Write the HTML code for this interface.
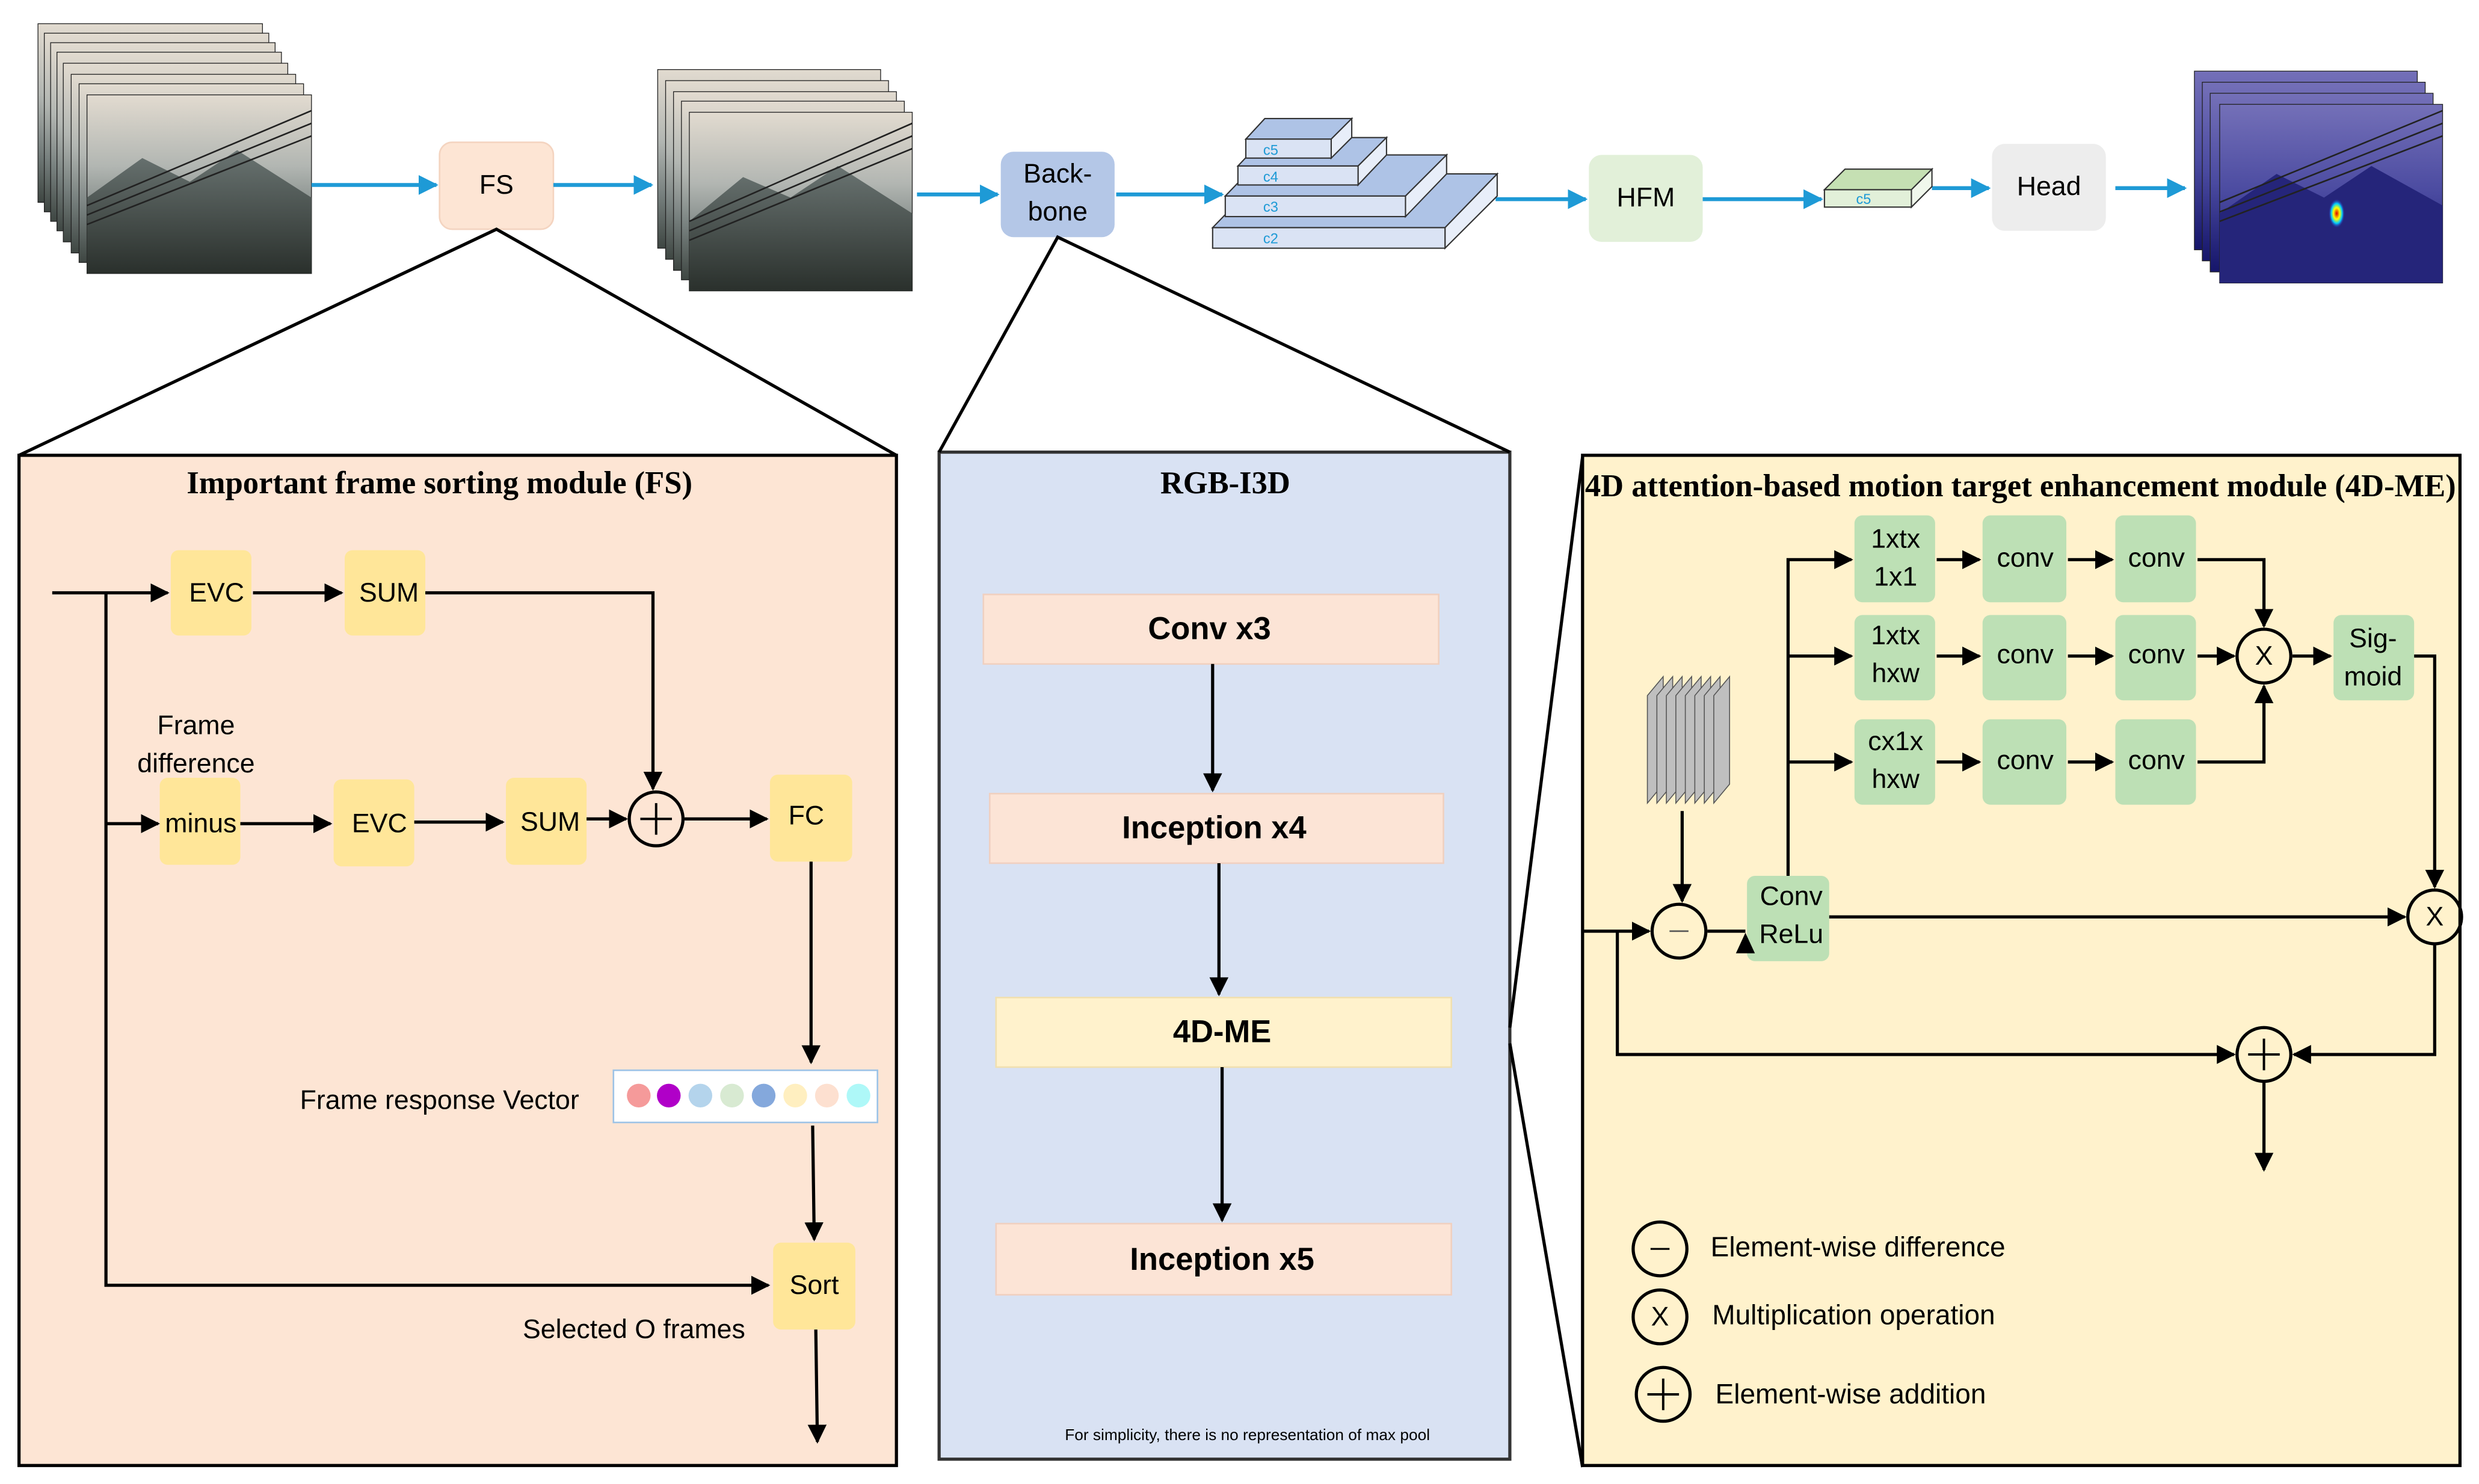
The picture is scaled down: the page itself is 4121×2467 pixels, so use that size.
<!DOCTYPE html>
<html><head><meta charset="utf-8"><style>
html,body{margin:0;padding:0;background:#fff;}
svg{display:block;}
text{font-family:"Liberation Sans",sans-serif;fill:#000;}
.t{font-size:17px;text-anchor:middle;dominant-baseline:middle;}
.ser{font-family:"Liberation Serif",serif;font-weight:bold;font-size:20px;text-anchor:middle;}
.b{font-size:20px;font-weight:bold;text-anchor:middle;dominant-baseline:middle;}
.ln{stroke:#000;stroke-width:2;fill:none;}
.bl{stroke:#1e9ad6;stroke-width:2.5;fill:none;}
</style></head><body>
<svg width="4121" height="2467" viewBox="0 0 1568 938.7" xmlns="http://www.w3.org/2000/svg">
<defs>
<marker id="a" viewBox="0 0 10 10" refX="9" refY="5" markerWidth="6" markerHeight="6" orient="auto"><path d="M0,0L10,5L0,10z" fill="#000"/></marker>
<marker id="ab" viewBox="0 0 10 10" refX="9" refY="5" markerWidth="5" markerHeight="6" orient="auto"><path d="M0,0L10,5L0,10z" fill="#1e9ad6"/></marker>
<linearGradient id="sky" x1="0" y1="0" x2="0" y2="1"><stop offset="0" stop-color="#e2dbd0"/><stop offset="0.4" stop-color="#b2b6b2"/><stop offset="0.7" stop-color="#77807e"/><stop offset="1" stop-color="#3e4642"/></linearGradient>
<linearGradient id="mt" x1="0" y1="0" x2="0" y2="1"><stop offset="0" stop-color="#6a7472"/><stop offset="1" stop-color="#2a302c"/></linearGradient>
<linearGradient id="blu" x1="0" y1="0" x2="0" y2="1"><stop offset="0" stop-color="#7470b8"/><stop offset="0.5" stop-color="#4a4aa0"/><stop offset="1" stop-color="#15156a"/></linearGradient>
<radialGradient id="hot"><stop offset="0" stop-color="#d00"/><stop offset="0.4" stop-color="#ff0"/><stop offset="0.7" stop-color="#0cf"/><stop offset="1" stop-color="#33c" stop-opacity="0"/></radialGradient>
</defs>

<g stroke="#222" stroke-width="0.5">
<rect x="24" y="15" width="142" height="113" fill="url(#sky)"/>
<rect x="28" y="21" width="142" height="113" fill="url(#sky)"/>
<rect x="32" y="27" width="142" height="113" fill="url(#sky)"/>
<rect x="36" y="33" width="142" height="113" fill="url(#sky)"/>
<rect x="40" y="40" width="142" height="113" fill="url(#sky)"/>
<rect x="45" y="47" width="142" height="113" fill="url(#sky)"/>
<rect x="50" y="53" width="142" height="113" fill="url(#sky)"/>
<rect x="55" y="60" width="142" height="113" fill="url(#sky)"/>
</g>
<path d="M55,125 L90,100 L120,115 L150,95 L197,125 L197,173 L55,173z" fill="url(#mt)"/>
<path d="M55,130 L197,70 M55,136 L197,78 M55,142 L197,86" stroke="#222" stroke-width="1"/>
<g stroke="#222" stroke-width="0.5">
<rect x="416" y="44" width="141" height="113" fill="url(#sky)"/>
<rect x="421" y="51" width="141" height="113" fill="url(#sky)"/>
<rect x="426" y="58" width="141" height="113" fill="url(#sky)"/>
<rect x="431" y="64" width="141" height="113" fill="url(#sky)"/>
<rect x="436" y="71" width="141" height="113" fill="url(#sky)"/>
</g>
<path d="M436,140 L470,112 L500,125 L530,105 L577,135 L577,184 L436,184z" fill="url(#mt)"/>
<path d="M436,140 L577,78 M436,146 L577,86 M436,152 L577,94" stroke="#222" stroke-width="1"/>
<g stroke="#222" stroke-width="0.5">
<rect x="1388" y="45" width="141" height="113" fill="url(#blu)"/>
<rect x="1393" y="52" width="141" height="113" fill="url(#blu)"/>
<rect x="1398" y="59" width="141" height="113" fill="url(#blu)"/>
<rect x="1404" y="66" width="141" height="113" fill="url(#blu)"/>
</g>
<path d="M1404,135 L1440,110 L1470,125 L1500,105 L1545,130 L1545,179 L1404,179z" fill="#25257a"/>
<path d="M1404,128 L1545,70 M1404,134 L1545,78 M1404,140 L1545,86" stroke="#222" stroke-width="1"/>
<ellipse cx="1478" cy="135" rx="5" ry="9" fill="url(#hot)"/>

<rect x="278" y="90" width="72" height="55" rx="8" fill="#fde5d4" stroke="#f4d4c0"/>
<text x="314" y="118" class="t">FS</text>
<rect x="633" y="96" width="72" height="54" rx="8" fill="#b4c7e7"/>
<text x="669" y="111" class="t">Back-</text><text x="669" y="135" class="t">bone</text>
<rect x="1005" y="98" width="72" height="55" rx="8" fill="#e2f0d9"/>
<text x="1041" y="126" class="t">HFM</text>
<rect x="1260" y="91" width="72" height="55" rx="8" fill="#ededed"/>
<text x="1296" y="119" class="t">Head</text>

<g class="bl" marker-end="url(#ab)">
<line x1="197" y1="117" x2="276" y2="117"/>
<line x1="350" y1="117" x2="412" y2="117"/>
<line x1="580" y1="123" x2="631" y2="123"/>
<line x1="706" y1="123" x2="773" y2="123"/>
<line x1="946" y1="126" x2="1003" y2="126"/>
<line x1="1077" y1="126" x2="1152" y2="126"/>
<line x1="1222" y1="119" x2="1258" y2="119"/>
<line x1="1338" y1="119" x2="1382" y2="119"/>
</g>

<g stroke="#333" stroke-width="0.8">
<polygon points="767,144 800,110 947,110 914,144" fill="#aec3e6"/>
<polygon points="914,144 947,110 947,124 914,157" fill="#e8eef9"/>
<rect x="767" y="144" width="147" height="13" fill="#dae3f4"/>
<polygon points="775,124 800,98 915,98 889,124" fill="#aec3e6"/>
<polygon points="889,124 915,98 915,110 889,137" fill="#e8eef9"/>
<rect x="775" y="124" width="114" height="13" fill="#dae3f4"/>
<polygon points="783,105 800,87 877,87 859,105" fill="#aec3e6"/>
<polygon points="859,105 877,87 877,98 859,117" fill="#e8eef9"/>
<rect x="783" y="105" width="76" height="12" fill="#dae3f4"/>
<polygon points="788,88 800,75 855,75 842,88" fill="#aec3e6"/>
<polygon points="842,88 855,75 855,87 842,100" fill="#e8eef9"/>
<rect x="788" y="88" width="54" height="12" fill="#dae3f4"/>
<polygon points="1154,120 1167,107 1222,107 1209,120" fill="#c5e0b3"/>
<polygon points="1209,120 1222,107 1222,118 1209,131" fill="#f0f7ec"/>
<rect x="1154" y="120" width="55" height="11" fill="#e2f0d9"/>
</g>
<g font-size="9">
<text x="799" y="154" style="fill:#1e9ad6">c2</text><text x="799" y="134" style="fill:#1e9ad6">c3</text>
<text x="799" y="115" style="fill:#1e9ad6">c4</text><text x="799" y="98" style="fill:#1e9ad6">c5</text>
<text x="1174" y="129" style="fill:#1e9ad6">c5</text>
</g>

<rect x="12" y="288" width="555" height="639" fill="#fde5d4" stroke="#000" stroke-width="2"/>
<rect x="594" y="286" width="361" height="637" fill="#d9e2f3" stroke="#333" stroke-width="2"/>
<rect x="1001" y="288" width="555" height="639" fill="#fff2cc" stroke="#000" stroke-width="2"/>
<g class="ln" stroke-width="1.5">
<polyline points="12,288 314,145 567,288"/>
<polyline points="594,286 669,150 955,286"/>
<line x1="955" y1="650" x2="1001" y2="289"/>
<line x1="955" y1="660" x2="1001" y2="928"/>
</g>

<text x="278" y="312" class="ser" font-size="21.5">Important frame sorting module (FS)</text>
<g fill="#ffe699">
<rect x="108" y="348" width="51" height="54" rx="5"/>
<rect x="218" y="348" width="51" height="54" rx="5"/>
<rect x="101" y="492" width="51" height="55" rx="5"/>
<rect x="211" y="493" width="51" height="55" rx="5"/>
<rect x="320" y="492" width="51" height="55" rx="5"/>
<rect x="487" y="490" width="52" height="55" rx="5"/>
<rect x="489" y="786" width="52" height="55" rx="5"/>
</g>
<text x="137" y="376" class="t">EVC</text>
<text x="246" y="376" class="t">SUM</text>
<text x="127" y="522" class="t">minus</text>
<text x="240" y="522" class="t">EVC</text>
<text x="348" y="521" class="t">SUM</text>
<text x="510" y="517" class="t">FC</text>
<text x="515" y="814" class="t">Sort</text>
<text x="124" y="460" class="t">Frame</text>
<text x="124" y="484" class="t">difference</text>
<text x="278" y="697" class="t">Frame response Vector</text>
<text x="401" y="842" class="t">Selected O frames</text>
<g class="ln">
<line x1="33" y1="375" x2="106" y2="375" marker-end="url(#a)"/>
<line x1="160" y1="375" x2="216" y2="375" marker-end="url(#a)"/>
<polyline points="269,375 413,375 413,499" marker-end="url(#a)"/>
<polyline points="67,375 67,813 486,813" marker-end="url(#a)"/>
<line x1="67" y1="521" x2="100" y2="521" marker-end="url(#a)"/>
<line x1="152" y1="521" x2="209" y2="521" marker-end="url(#a)"/>
<line x1="262" y1="520" x2="318" y2="520" marker-end="url(#a)"/>
<line x1="371" y1="518" x2="396" y2="518" marker-end="url(#a)"/>
<circle cx="415" cy="518" r="17"/>
<path d="M405,518h20M415,508v20" stroke-width="1.5"/>
<line x1="433" y1="518" x2="485" y2="518" marker-end="url(#a)"/>
<line x1="513" y1="545" x2="513" y2="672" marker-end="url(#a)"/>
<line x1="514" y1="712" x2="515" y2="784" marker-end="url(#a)"/>
<line x1="516" y1="841" x2="517" y2="912" marker-end="url(#a)"/>
</g>
<rect x="388" y="677" width="167" height="33" fill="#fff" stroke="#9dc3e6"/>
<circle cx="404" cy="693" r="7.5" fill="#f59a9a"/>
<circle cx="423" cy="693" r="7.5" fill="#b000c8"/>
<circle cx="443" cy="693" r="7.5" fill="#b4d4ec"/>
<circle cx="463" cy="693" r="7.5" fill="#d8ead2"/>
<circle cx="483" cy="693" r="7.5" fill="#84a8dc"/>
<circle cx="503" cy="693" r="7.5" fill="#ffefc0"/>
<circle cx="523" cy="693" r="7.5" fill="#fde0d0"/>
<circle cx="543" cy="693" r="7.5" fill="#aef8f8"/>

<text x="775" y="312" class="ser" font-size="21">RGB-I3D</text>
<rect x="622" y="376" width="288" height="44" fill="#fce4d6" stroke="#f0d0c0"/>
<rect x="626" y="502" width="287" height="44" fill="#fce4d6" stroke="#f0d0c0"/>
<rect x="630" y="631" width="288" height="44" fill="#fff2cc" stroke="#f0e0b0"/>
<rect x="630" y="774" width="288" height="45" fill="#fce4d6" stroke="#f0d0c0"/>
<text x="765" y="399" class="b">Conv x3</text>
<text x="768" y="525" class="b">Inception x4</text>
<text x="773" y="654" class="b">4D-ME</text>
<text x="773" y="798" class="b">Inception x5</text>
<g class="ln">
<line x1="767" y1="420" x2="767" y2="500" marker-end="url(#a)"/>
<line x1="771" y1="546" x2="771" y2="629" marker-end="url(#a)"/>
<line x1="773" y1="675" x2="773" y2="772" marker-end="url(#a)"/>
</g>
<text x="789" y="911" font-size="10" text-anchor="middle">For simplicity, there is no representation of max pool</text>

<text x="1278" y="314" class="ser" font-size="18.8">4D attention-based motion target enhancement module (4D-ME)</text>
<g fill="#bde0b5">
<rect x="1173" y="326" width="51" height="55" rx="5"/><rect x="1254" y="326" width="53" height="55" rx="5"/><rect x="1338" y="326" width="51" height="55" rx="5"/>
<rect x="1173" y="389" width="51" height="54" rx="5"/><rect x="1254" y="389" width="53" height="54" rx="5"/><rect x="1338" y="389" width="51" height="54" rx="5"/>
<rect x="1173" y="455" width="51" height="54" rx="5"/><rect x="1254" y="455" width="53" height="54" rx="5"/><rect x="1338" y="455" width="51" height="54" rx="5"/>
<rect x="1476" y="389" width="51" height="54" rx="5"/>
<rect x="1105" y="554" width="52" height="54" rx="5"/>
</g>
<text x="1199" y="342" class="t">1xtx</text><text x="1199" y="366" class="t">1x1</text>
<text x="1199" y="403" class="t">1xtx</text><text x="1199" y="427" class="t">hxw</text>
<text x="1199" y="470" class="t">cx1x</text><text x="1199" y="494" class="t">hxw</text>
<text x="1281" y="354" class="t">conv</text><text x="1364" y="354" class="t">conv</text>
<text x="1281" y="415" class="t">conv</text><text x="1364" y="415" class="t">conv</text>
<text x="1281" y="482" class="t">conv</text><text x="1364" y="482" class="t">conv</text>
<text x="1501" y="405" class="t">Sig-</text><text x="1501" y="429" class="t">moid</text>
<text x="1133" y="568" class="t">Conv</text><text x="1133" y="592" class="t">ReLu</text>
<g stroke="#555" stroke-width="0.6" fill="#bfbfbf">
<polygon points="1042,440 1052,428 1052,496 1042,508"/>
<polygon points="1048,440 1058,428 1058,496 1048,508"/>
<polygon points="1054,440 1064,428 1064,496 1054,508"/>
<polygon points="1060,440 1070,428 1070,496 1060,508"/>
<polygon points="1066,440 1076,428 1076,496 1066,508"/>
<polygon points="1072,440 1082,428 1082,496 1072,508"/>
<polygon points="1078,440 1088,428 1088,496 1078,508"/>
<polygon points="1084,440 1094,428 1094,496 1084,508"/>
</g>
<g class="ln">
<polyline points="1131,554 1131,354 1171,354" marker-end="url(#a)"/>
<line x1="1131" y1="415" x2="1171" y2="415" marker-end="url(#a)"/>
<line x1="1131" y1="482" x2="1171" y2="482" marker-end="url(#a)"/>
<line x1="1225" y1="354" x2="1252" y2="354" marker-end="url(#a)"/>
<line x1="1308" y1="354" x2="1336" y2="354" marker-end="url(#a)"/>
<line x1="1225" y1="415" x2="1252" y2="415" marker-end="url(#a)"/>
<line x1="1308" y1="415" x2="1336" y2="415" marker-end="url(#a)"/>
<line x1="1225" y1="482" x2="1252" y2="482" marker-end="url(#a)"/>
<line x1="1308" y1="482" x2="1336" y2="482" marker-end="url(#a)"/>
<polyline points="1390,354 1432,354 1432,396" marker-end="url(#a)"/>
<line x1="1390" y1="415" x2="1413" y2="415" marker-end="url(#a)"/>
<polyline points="1390,482 1432,482 1432,434" marker-end="url(#a)"/>
<circle cx="1432" cy="415" r="17"/>
<line x1="1450" y1="415" x2="1474" y2="415" marker-end="url(#a)"/>
<polyline points="1527,415 1540,415 1540,561" marker-end="url(#a)"/>
<circle cx="1540" cy="580" r="17"/>
<line x1="1157" y1="580" x2="1521" y2="580" marker-end="url(#a)"/>
<line x1="1001" y1="589" x2="1043" y2="589" marker-end="url(#a)"/>
<circle cx="1062" cy="589" r="17"/>
<line x1="1064" y1="513" x2="1064" y2="570" marker-end="url(#a)"/>
<line x1="1080" y1="589" x2="1104" y2="589"/>
<polyline points="1023,589 1023,667 1413,667" marker-end="url(#a)"/>
<circle cx="1432" cy="667" r="17"/>
<path d="M1422,667h20M1432,657v20" stroke-width="1.5"/>
<polyline points="1540,597 1540,667 1451,667" marker-end="url(#a)"/>
<line x1="1432" y1="684" x2="1432" y2="740" marker-end="url(#a)"/>
<circle cx="1050" cy="790" r="17"/>
<circle cx="1050" cy="833" r="17"/>
<circle cx="1052" cy="882" r="17"/>
<path d="M1042,882h20M1052,872v20" stroke-width="1.5"/>
</g>
<polygon points="1098,603 1104,590 1110,603" fill="#000"/>
<line x1="1056" y1="589" x2="1068" y2="589" stroke="#555" stroke-width="1"/>
<line x1="1044" y1="790" x2="1056" y2="790" stroke="#000" stroke-width="1.2"/>
<text x="1432" y="416" class="t">X</text>
<text x="1540" y="581" class="t">X</text>
<text x="1050" y="834" class="t">X</text>
<text x="1082" y="790" font-size="17.5" dominant-baseline="middle">Element-wise difference</text>
<text x="1083" y="833" font-size="17.5" dominant-baseline="middle">Multiplication operation</text>
<text x="1085" y="883" font-size="17.5" dominant-baseline="middle">Element-wise addition</text>
</svg>
</body></html>
